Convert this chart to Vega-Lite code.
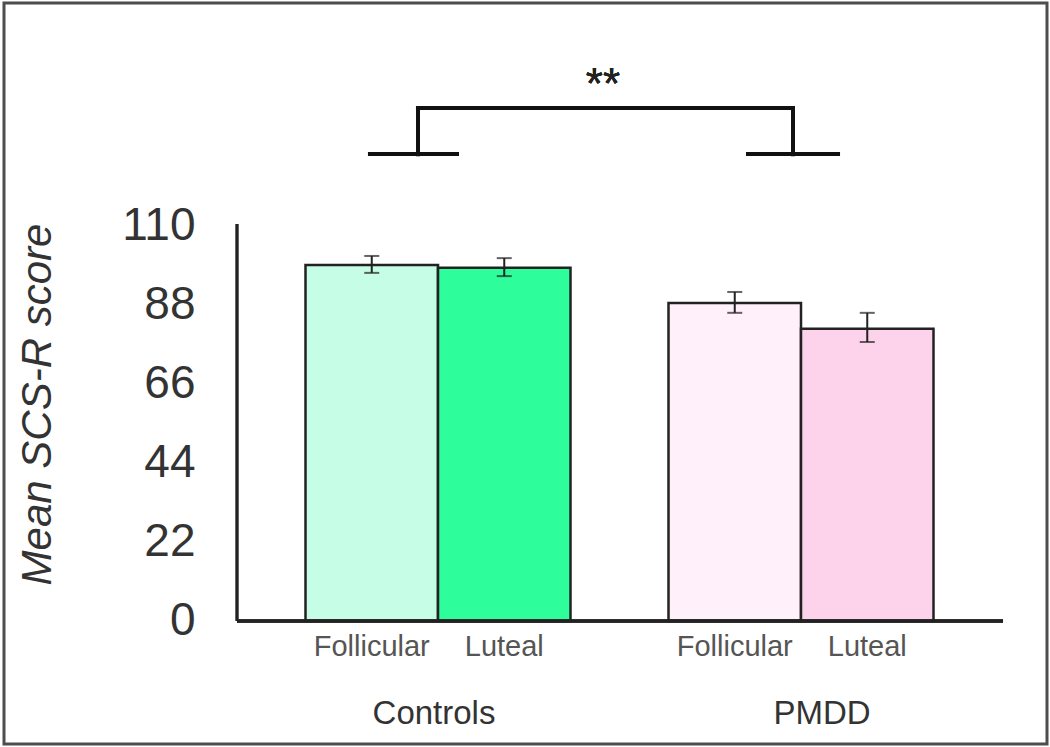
{
  "$schema": "https://vega.github.io/schema/vega-lite/v6.json",
  "width": 1043,
  "height": 741,
  "autosize": {"type": "none"},
  "padding": {"left": 4, "top": 3, "right": 3, "bottom": 3},
  "background": "white",
  "config": {
    "view": {"stroke": "#4d4d4d", "strokeWidth": 3},
    "font": "Liberation Sans"
  },
  "datasets": {
    "bars": [
      {"group": "Controls", "phase": "Follicular", "condition": "Controls Follicular", "mean": 98.9, "lo": 96.7, "hi": 101.4},
      {"group": "Controls", "phase": "Luteal", "condition": "Controls Luteal", "mean": 98.1, "lo": 95.8, "hi": 100.8},
      {"group": "PMDD", "phase": "Follicular", "condition": "PMDD Follicular", "mean": 88.3, "lo": 85.6, "hi": 91.4},
      {"group": "PMDD", "phase": "Luteal", "condition": "PMDD Luteal", "mean": 81.2, "lo": 77.5, "hi": 85.6}
    ]
  },
  "data": {"name": "bars"},
  "layer": [
    {
      "mark": {"type": "bar", "stroke": "#222222", "strokeWidth": 2.5},
      "encoding": {
        "x": {
          "field": "group",
          "type": "nominal",
          "scale": {"domain": ["Controls", "PMDD"], "paddingInner": 0.26997, "paddingOuter": 0.57163, "align": 0.72651},
          "axis": {
            "orient": "bottom",
            "offset": -123,
            "domain": false,
            "ticks": false,
            "tickSize": 0,
            "grid": false,
            "labelAngle": 0,
            "labelPadding": 102,
            "labelBaseline": "alphabetic",
            "labelFontSize": 33,
            "labelColor": "#333333",
            "labelOffset": {"condition": {"test": "datum.value === 'PMDD'", "value": 21}, "value": -4},
            "title": null
          }
        },
        "xOffset": {
          "field": "phase",
          "type": "nominal",
          "scale": {"domain": ["Follicular", "Luteal"], "paddingInner": 0, "paddingOuter": 0}
        },
        "y": {
          "field": "mean",
          "type": "quantitative",
          "scale": {"domain": [-34.167, 171.667], "nice": false, "zero": false},
          "axis": {
            "values": [0, 22, 44, 66, 88, 110],
            "offset": -233,
            "domain": false,
            "ticks": false,
            "tickSize": 0,
            "grid": false,
            "labelPadding": 42,
            "labelFontSize": 46,
            "labelColor": "#333333",
            "title": "Mean SCS-R score",
            "titleFontSize": 42,
            "titleFontStyle": "italic",
            "titleFontWeight": "normal",
            "titleColor": "#333333",
            "titleAngle": -90,
            "titleX": -187,
            "titleY": 401,
            "titleBaseline": "alphabetic",
            "titleAlign": "center"
          }
        },
        "color": {
          "field": "condition",
          "type": "nominal",
          "scale": {
            "domain": ["Controls Follicular", "Controls Luteal", "PMDD Follicular", "PMDD Luteal"],
            "range": ["#c6fde6", "#2dfd9b", "#fff0fa", "#fdd3ec"]
          },
          "legend": null
        }
      }
    },
    {
      "mark": {"type": "rule", "color": "#222222", "strokeWidth": 2},
      "encoding": {
        "x": {"field": "group", "type": "nominal"},
        "xOffset": {"field": "phase", "type": "nominal"},
        "y": {"field": "lo", "type": "quantitative"},
        "y2": {"field": "hi"}
      }
    },
    {
      "mark": {"type": "tick", "orient": "horizontal", "color": "#222222", "size": 15, "thickness": 2},
      "encoding": {
        "x": {"field": "group", "type": "nominal"},
        "xOffset": {"field": "phase", "type": "nominal"},
        "y": {"field": "lo", "type": "quantitative"}
      }
    },
    {
      "mark": {"type": "tick", "orient": "horizontal", "color": "#222222", "size": 15, "thickness": 2},
      "encoding": {
        "x": {"field": "group", "type": "nominal"},
        "xOffset": {"field": "phase", "type": "nominal"},
        "y": {"field": "hi", "type": "quantitative"}
      }
    },
    {
      "mark": {"type": "text", "fontSize": 29, "color": "#555555", "baseline": "alphabetic", "align": "center"},
      "encoding": {
        "x": {"field": "group", "type": "nominal"},
        "xOffset": {"field": "phase", "type": "nominal"},
        "y": {"datum": -9.72, "type": "quantitative"},
        "text": {"field": "phase"}
      }
    },
    {
      "mark": {"type": "rule", "color": "#222222", "strokeWidth": 2.5},
      "encoding": {
        "x": {"datum": "Controls", "type": "nominal", "bandPosition": -0.2585},
        "y": {"datum": 0, "type": "quantitative"},
        "y2": {"datum": 110.3}
      }
    },
    {
      "mark": {"type": "rule", "color": "#222222", "strokeWidth": 3},
      "encoding": {
        "x": {"datum": "Controls", "type": "nominal", "bandPosition": -0.2585},
        "x2": {"datum": "PMDD", "bandPosition": 1.2623},
        "y": {"datum": 0, "type": "quantitative"}
      }
    },
    {
      "mark": {"type": "rule", "color": "#111111", "strokeWidth": 4, "strokeCap": "square"},
      "encoding": {
        "x": {"datum": "Controls", "type": "nominal", "bandPosition": 0.4245},
        "x2": {"datum": "PMDD", "bandPosition": 0.4698},
        "y": {"datum": 142.5, "type": "quantitative"}
      }
    },
    {
      "mark": {"type": "rule", "color": "#111111", "strokeWidth": 4, "strokeCap": "square"},
      "encoding": {
        "x": {"datum": "Controls", "type": "nominal", "bandPosition": 0.4245},
        "y": {"datum": 129.7, "type": "quantitative"},
        "y2": {"datum": 142.5}
      }
    },
    {
      "mark": {"type": "rule", "color": "#111111", "strokeWidth": 4, "strokeCap": "square"},
      "encoding": {
        "x": {"datum": "PMDD", "type": "nominal", "bandPosition": 0.4698},
        "y": {"datum": 129.7, "type": "quantitative"},
        "y2": {"datum": 142.5}
      }
    },
    {
      "mark": {"type": "rule", "color": "#111111", "strokeWidth": 4},
      "encoding": {
        "x": {"datum": "Controls", "type": "nominal", "bandPosition": 0.2358},
        "x2": {"datum": "Controls", "bandPosition": 0.5792},
        "y": {"datum": 129.7, "type": "quantitative"}
      }
    },
    {
      "mark": {"type": "rule", "color": "#111111", "strokeWidth": 4},
      "encoding": {
        "x": {"datum": "PMDD", "type": "nominal", "bandPosition": 0.2925},
        "x2": {"datum": "PMDD", "bandPosition": 0.6472},
        "y": {"datum": 129.7, "type": "quantitative"}
      }
    },
    {
      "mark": {"type": "text", "fontSize": 44, "color": "#222222", "baseline": "alphabetic", "align": "center"},
      "encoding": {
        "x": {"datum": "Controls", "type": "nominal", "bandPosition": 1.1226},
        "y": {"datum": 145.1, "type": "quantitative"},
        "text": {"value": "**"}
      }
    }
  ]
}
